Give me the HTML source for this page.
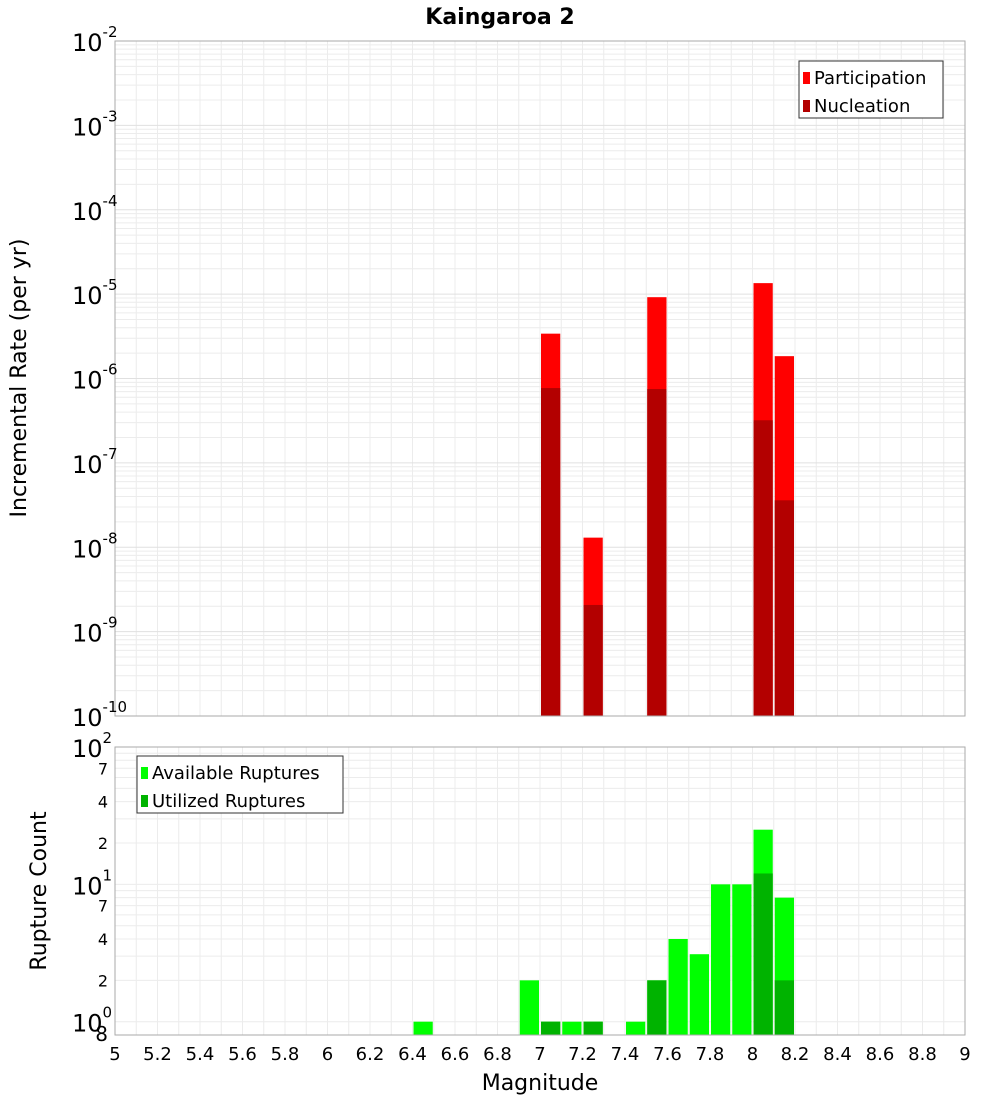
<!DOCTYPE html>
<html><head><meta charset="utf-8"><style>
body{margin:0;background:#fff;font-family:"Liberation Sans","DejaVu Sans",sans-serif}
svg text{font-family:"DejaVu Sans","Liberation Sans",sans-serif}
</style></head><body>
<svg id="c" width="1000" height="1100" xmlns="http://www.w3.org/2000/svg">
<text x="500" y="24" text-anchor="middle" font-size="22" font-weight="bold">Kaingaroa 2</text>
<g id="topplot"></g>
<g id="botplot"></g>
<text x="540" y="1090" text-anchor="middle" font-size="22">Magnitude</text>
<text transform="translate(26,378) rotate(-90)" text-anchor="middle" font-size="22">Incremental Rate (per yr)</text>
<text transform="translate(46,891) rotate(-90)" text-anchor="middle" font-size="22">Rupture Count</text>
</svg>
<script>
const binMags=[7.05,7.25,7.55,8.05,8.15];
const participation=[3.4e-6,1.3e-8,9.2e-6,1.35e-5,1.84e-6];
const nucleation=[7.7e-7,2.07e-9,7.5e-7,3.2e-7,3.6e-8];
const countMags=[6.45,6.95,7.05,7.15,7.25,7.45,7.55,7.65,7.75,7.85,7.95,8.05,8.15];
const available=[1,2,1,1,1,1,2,4,3.1,10,10,25,8];
const utilizedMags=[7.05,7.25,7.55,8.05,8.15];
const utilized=[1,1,2,12,2];
const xTicks=[5,5.2,5.4,5.6,5.8,6,6.2,6.4,6.6,6.8,7,7.2,7.4,7.6,7.8,8,8.2,8.4,8.6,8.8,9];
const topExps=[-10,-9,-8,-7,-6,-5,-4,-3,-2];
const botMinor=[2,4,7,20,40,70];

const NS="http://www.w3.org/2000/svg";
const svgEl=document.getElementById('c');
function el(parent,tag,attrs,text){const e=document.createElementNS(NS,tag);for(const k in attrs)e.setAttribute(k,attrs[k]);if(text!==undefined)e.textContent=text;parent.appendChild(e);return e;}
const X0=115,X1=965;
const xs=m=>X0+(m-5)/(9-5)*(X1-X0);
const T0=41,T1=716;
const yt=v=>T1-(Math.log10(v)+10)/8*(T1-T0);
const B0=747,B1=1035,BLO=Math.log10(0.8),BHI=2;
const yb=v=>B1-(Math.log10(v)-BLO)/(BHI-BLO)*(B1-B0);

const topG=document.getElementById('topplot'),botG=document.getElementById('botplot');
function vgrid(g,y0,y1){
  for(let i=0;i<=40;i++){const x=xs(5+i*0.1);const l=el(g,'line',{x1:x,x2:x,y1:y0,y2:y1,stroke:'#ececec','stroke-width':1});
  
  }
}
vgrid(topG,T0,T1);vgrid(botG,B0,B1);
for(let e=-10;e<-2;e++){for(let k=1;k<10;k++){const y=yt(k*Math.pow(10,e));
  const l=el(topG,'line',{x1:X0,x2:X1,y1:y,y2:y,stroke:k==1?'#e0e0e0':'#ececec','stroke-width':1});
  
  }}
for(let v=1;v<=100;v=v<10?v+1:v+10){const y=yb(v);
  const l=el(botG,'line',{x1:X0,x2:X1,y1:y,y2:y,stroke:'#ececec','stroke-width':1});
  
  }
const hw=0.1/2;
binMags.forEach((m,i)=>{
  const x=xs(m-hw)+1,w=xs(m+hw)-xs(m-hw)-2;
  const p=el(topG,'rect',{x:x,y:yt(participation[i]),width:w,height:T1-yt(participation[i]),fill:'#ff0000'});
  
  
  const n=el(topG,'rect',{x:x,y:yt(nucleation[i]),width:w,height:T1-yt(nucleation[i]),fill:'#b30000'});
  
  
});
countMags.forEach((m,i)=>{
  const x=xs(m-hw)+1,w=xs(m+hw)-xs(m-hw)-2;
  const r=el(botG,'rect',{x:x,y:yb(available[i]),width:w,height:B1-yb(available[i]),fill:'#00ff00'});
  
  
});
utilizedMags.forEach((m,i)=>{
  const x=xs(m-hw)+1,w=xs(m+hw)-xs(m-hw)-2;
  const r=el(botG,'rect',{x:x,y:yb(utilized[i]),width:w,height:B1-yb(utilized[i]),fill:'#00b300'});
  
  
});
el(topG,'rect',{x:X0,y:T0,width:X1-X0,height:T1-T0,fill:'none',stroke:'#aaa'});
el(botG,'rect',{x:X0,y:B0,width:X1-X0,height:B1-B0,fill:'none',stroke:'#aaa'});
topExps.forEach(e=>{const y=yt(Math.pow(10,e));
  const t=el(topG,'text',{x:72,y:y+10,'font-size':24});
  
  
  el(t,'tspan',{},'10');el(t,'tspan',{dy:-14,'font-size':15},String(e));
});
[[1,'0'],[10,'1'],[100,'2']].forEach(([v,e])=>{const y=yb(v);
  const t=el(botG,'text',{x:72,y:y+10,'font-size':24});
  
  
  el(t,'tspan',{},'10');el(t,'tspan',{dy:-14,'font-size':15},e);
});
botMinor.forEach(v=>{const t=el(botG,'text',{x:108,y:yb(v)+6,'font-size':16,'text-anchor':'end'},String(v).charAt(0));
  
  });
{const t=el(botG,'text',{x:108,y:1041,'font-size':20,'text-anchor':'end'},'8');
  
  }
xTicks.forEach(m=>{const t=el(botG,'text',{x:xs(m),y:1060,'font-size':18,'text-anchor':'middle'},String(m));
  
  });
function legend(g,x,y,w,items,name){
  const lg=el(g,'g',{});
  
  
  el(lg,'rect',{x:x,y:y,width:w,height:57,fill:'#fff',stroke:'#333'});
  items.forEach(([c,txt],i)=>{
    el(lg,'rect',{x:x+4,y:y+11+i*28,width:7,height:12,fill:c});
    const t=el(lg,'text',{x:x+15,y:y+23+i*28,'font-size':18},txt);
    
    
  });
}
legend(topG,799,61,144,[['#ff0000','Participation'],['#b30000','Nucleation']],'rate-legend');
legend(botG,137,756,206,[['#00ff00','Available Ruptures'],['#00b300','Utilized Ruptures']],'count-legend');
</script>
</body></html>
